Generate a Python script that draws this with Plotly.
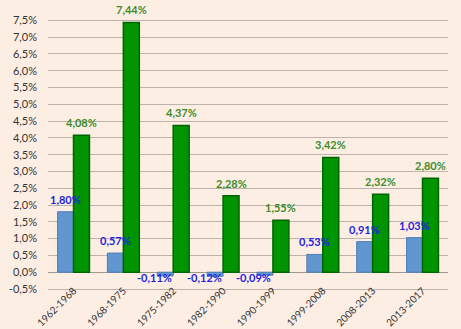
import plotly.graph_objects as go

categories = ["1962-1968", "1968-1975", "1975-1982", "1982-1990",
              "1990-1999", "1999-2008", "2008-2013", "2013-2017"]
blue_values = [1.80, 0.57, -0.11, -0.12, -0.09, 0.53, 0.91, 1.03]
green_values = [4.08, 7.44, 4.37, 2.28, 1.55, 3.42, 2.32, 2.80]
tick_vals = [-0.5, 0, 0.5, 1, 1.5, 2, 2.5, 3, 3.5, 4, 4.5, 5, 5.5, 6, 6.5, 7, 7.5]


def fmt(v, d):
    return f"{v:.{d}f}".replace(".", ",") + "%"


tick_text = [fmt(v, 1) for v in tick_vals]

fig = go.Figure()
fig.add_trace(go.Bar(
    x=categories, y=blue_values, name="A",
    marker=dict(color="#6196D0", line=dict(color="#4C7DB8", width=1)),
))
fig.add_trace(go.Bar(
    x=categories, y=green_values, name="B",
    marker=dict(color="#009400", line=dict(color="#006400", width=1.5)),
))

annotations = []
for c, v in zip(categories, blue_values):
    if v >= 0:
        annotations.append(dict(
            x=c, y=v, xref="x", yref="y", text=fmt(v, 2), showarrow=False,
            xshift=-8, yanchor="bottom", yshift=4,
            font=dict(color="#1F1FE0", size=11, family="Lato", weight="bold"),
        ))
    else:
        annotations.append(dict(
            x=c, y=0, xref="x", yref="y", text=fmt(v, 2), showarrow=False,
            xshift=-19, yanchor="middle", yshift=-5,
            font=dict(color="#1F1FE0", size=11, family="Lato", weight="bold"),
        ))
for c, v in zip(categories, green_values):
    annotations.append(dict(
        x=c, y=v, xref="x", yref="y", text=fmt(v, 2), showarrow=False,
        xshift=8, yanchor="bottom", yshift=4,
        font=dict(color="#3C8C2C", size=11, family="Lato", weight="bold"),
    ))

fig.update_layout(
    width=461, height=329,
    margin=dict(l=48, r=13, t=12, b=40),
    paper_bgcolor="#FDEEE4", plot_bgcolor="#FDEEE4",
    barmode="group", bargap=0.36, bargroupgap=0,
    showlegend=False,
    font=dict(family="Lato", size=11, color="#333333"),
    annotations=annotations,
)
fig.update_yaxes(
    range=[-0.5, 7.75], tickvals=tick_vals, ticktext=tick_text,
    showgrid=True, gridcolor="#BDB3AA", gridwidth=1,
    zeroline=True, zerolinecolor="#9E9890", zerolinewidth=1,
    showline=False, ticks="", automargin=False, ticklabelstandoff=10,
    tickfont=dict(size=11, color="#333333"),
)
fig.update_xaxes(
    tickangle=-45, showgrid=False, showline=True, linecolor="#BDB3AA",
    automargin=False, ticklabelstandoff=-9,
    tickfont=dict(size=10, color="#333333"),
)

fig.write_html("out.html")
